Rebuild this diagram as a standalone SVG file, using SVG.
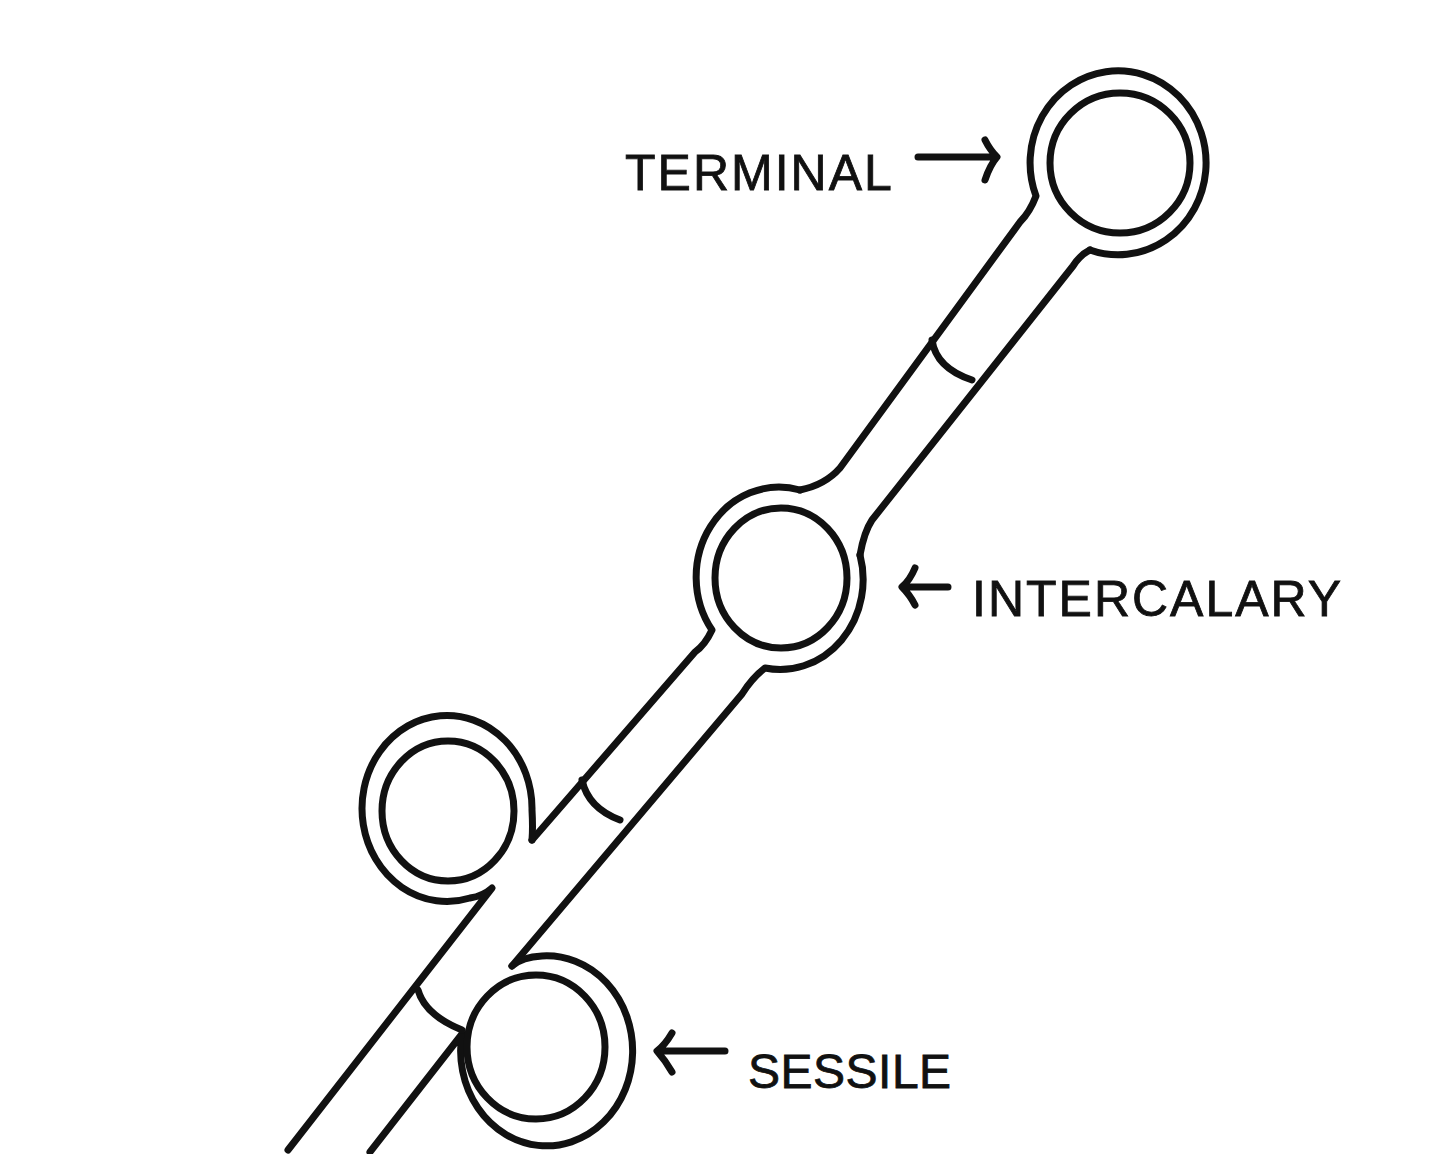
<svg xmlns="http://www.w3.org/2000/svg" width="1440" height="1154" viewBox="0 0 1440 1154">
<style>
.s{fill:none;stroke:#111;stroke-width:7;stroke-linecap:round;stroke-linejoin:round}
.t{font-family:"Liberation Sans",Arial,sans-serif;font-size:50px;fill:#111;stroke:#111;stroke-width:0.8;letter-spacing:2px}
</style>
<rect width="1440" height="1154" fill="#fff"/>
<g id="filament">
<path class="s" d="M1090,250 A88,92 0 1 0 1036,196 Q1030,212 1020,222 L840,468 Q825,485 800,490"/>
<path class="s" d="M1090,250 Q1080,255 1073,266 L872,520 Q864,532 860,555"/>
<path class="s" d="M800,490 A83,90 0 0 0 712,630 Q705,645 695,652 L532,840"/>
<path class="s" d="M860,555 A83,90 0 0 1 765,668 Q752,678 742,694 L512,966"/>
<path class="s" d="M532,840 Q533,828 532,810 A85,93 0 1 0 470,898 Q483,896 492,888 L288,1150"/>
<path class="s" d="M512,966 Q522,957 542,956 A86,95 0 1 1 462,1034 L370,1152"/>
</g>
<g id="septa">
<path class="s" d="M932,340 Q936,368 972,380"/>
<path class="s" d="M582,780 Q588,808 620,820"/>
<path class="s" d="M418,990 Q425,1015 462,1030"/>
</g>
<g id="cells">
<ellipse class="s" cx="1120" cy="163" rx="70" ry="70"/>
<ellipse class="s" cx="781" cy="578" rx="66" ry="70"/>
<ellipse class="s" cx="448" cy="811" rx="66" ry="70"/>
<ellipse class="s" cx="536" cy="1047" rx="69" ry="72"/>
</g>
<g id="labels">
<text class="t" x="625" y="190">TERMINAL</text>
<path class="s" d="M918,157 L995,157 M985,140 Q990,150 997,157 Q990,165 985,180"/>
<text class="t" x="972" y="616">INTERCALARY</text>
<path class="s" d="M905,587 L948,587 M915,568 Q910,580 902,587 Q910,595 915,605"/>
<text class="t" x="748" y="1088" style="font-size:48px;letter-spacing:0.5px">SESSILE</text>
<path class="s" d="M658,1051 L725,1051 M672,1033 Q665,1045 657,1051 Q665,1060 672,1072"/>
</g>
</svg>
